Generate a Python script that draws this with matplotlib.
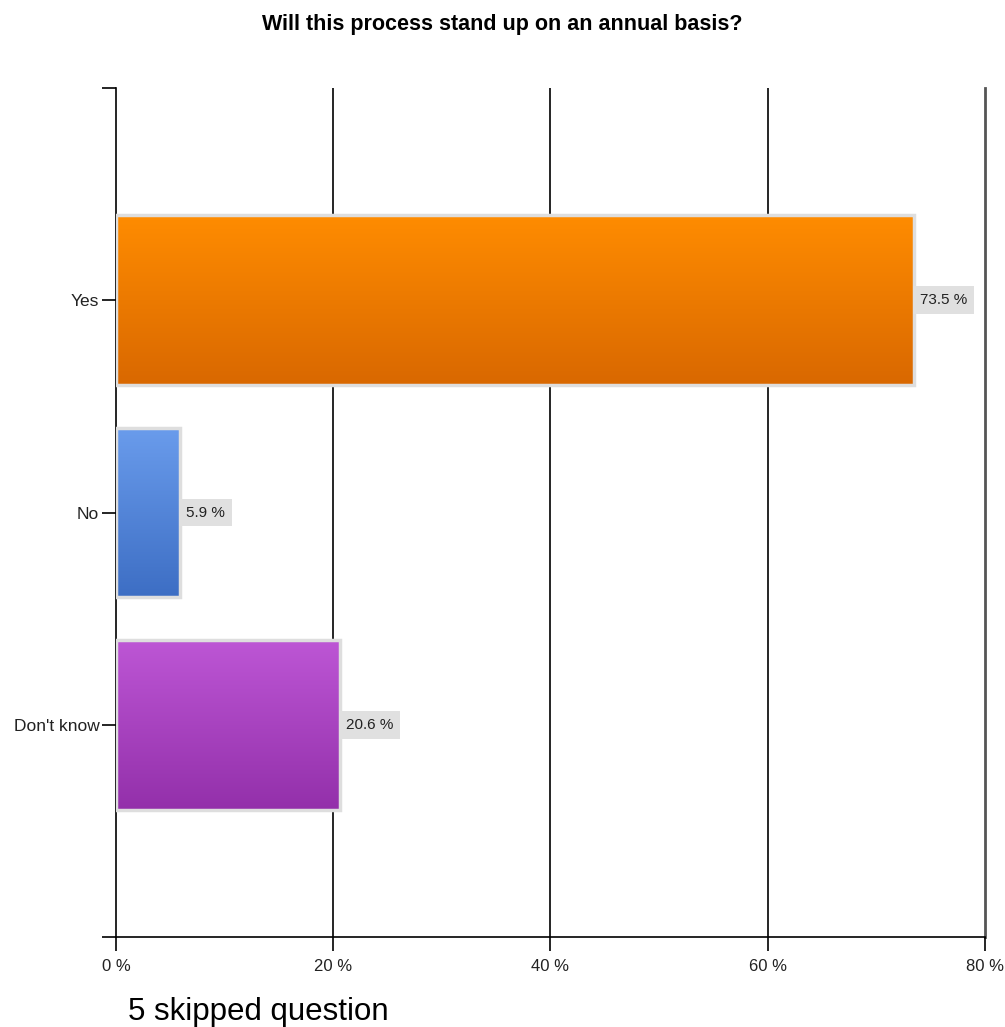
import numpy as np
import matplotlib.pyplot as plt
from matplotlib.colors import LinearSegmentedColormap

categories = ['Yes', 'No', "Don't know"]
values = [73.5, 5.9, 20.6]
top_colors = ['#ff8c00', '#6a9cec', '#bd56d5']
bottom_colors = ['#d96800', '#3d6ec4', '#9330aa']
xticks = [0, 20, 40, 60, 80]

font = ['Liberation Sans', 'DejaVu Sans']

fig = plt.figure(figsize=(10.05, 10.27), dpi=100)
ax = fig.add_axes([0.1154, 0.0876, 0.8647, 0.8267])

ax.set_xlim(0, 80)
ax.set_ylim(3, -1)

# vertical grid lines
for t in xticks[1:]:
    if t < 80:
        ax.axvline(t, color='black', lw=1.2, zorder=1)
    else:
        ax.axvline(t, color='#555555', lw=2, zorder=1, clip_on=False)

h = 0.8
grad = np.linspace(0, 1, 256).reshape(-1, 1)
for i, (v, c1, c2) in enumerate(zip(values, top_colors, bottom_colors)):
    cmap = LinearSegmentedColormap.from_list('g%d' % i, [c1, c2])
    ax.imshow(grad, cmap=cmap, aspect='auto', extent=[0, v, i + h / 2, i - h / 2],
              zorder=2, interpolation='bilinear')
    ax.barh(i, v, height=h, facecolor='none', edgecolor='#dedede', lw=2.5, zorder=3)
    ax.text(v + 0.55, i, '%.1f %%' % v, va='center', ha='left', fontsize=11,
            family=font, color='#222222', zorder=4,
            bbox=dict(boxstyle='square,pad=0.45', facecolor='#e0e0e0', edgecolor='none'))

ax.set_xlim(0, 80)
ax.set_ylim(3, -1)

ax.set_yticks([-1, 0, 1, 2, 3])
ax.set_yticklabels([''] + categories + [''], family=font, fontsize=12.5)
ax.set_xticks(xticks)
ax.set_xticklabels(['%d %%' % t for t in xticks], family=font, fontsize=12)
ax.tick_params(axis='both', length=10, width=1.2, color='black', labelcolor='#222222')
ax.tick_params(axis='x', pad=6)
ax.tick_params(axis='y', pad=2)

for s in ['top', 'right']:
    ax.spines[s].set_visible(False)
for s in ['left', 'bottom']:
    ax.spines[s].set_linewidth(1.2)

fig.text(0.5, 0.9757, 'Will this process stand up on an annual basis?', ha='center', va='center',
         fontsize=15.5, fontweight='bold', family=font)
fig.text(0.127, 0.0145, '5 skipped question', ha='left', va='center', fontsize=22.5,
         family=font)

fig.savefig('out.png', dpi=100)
